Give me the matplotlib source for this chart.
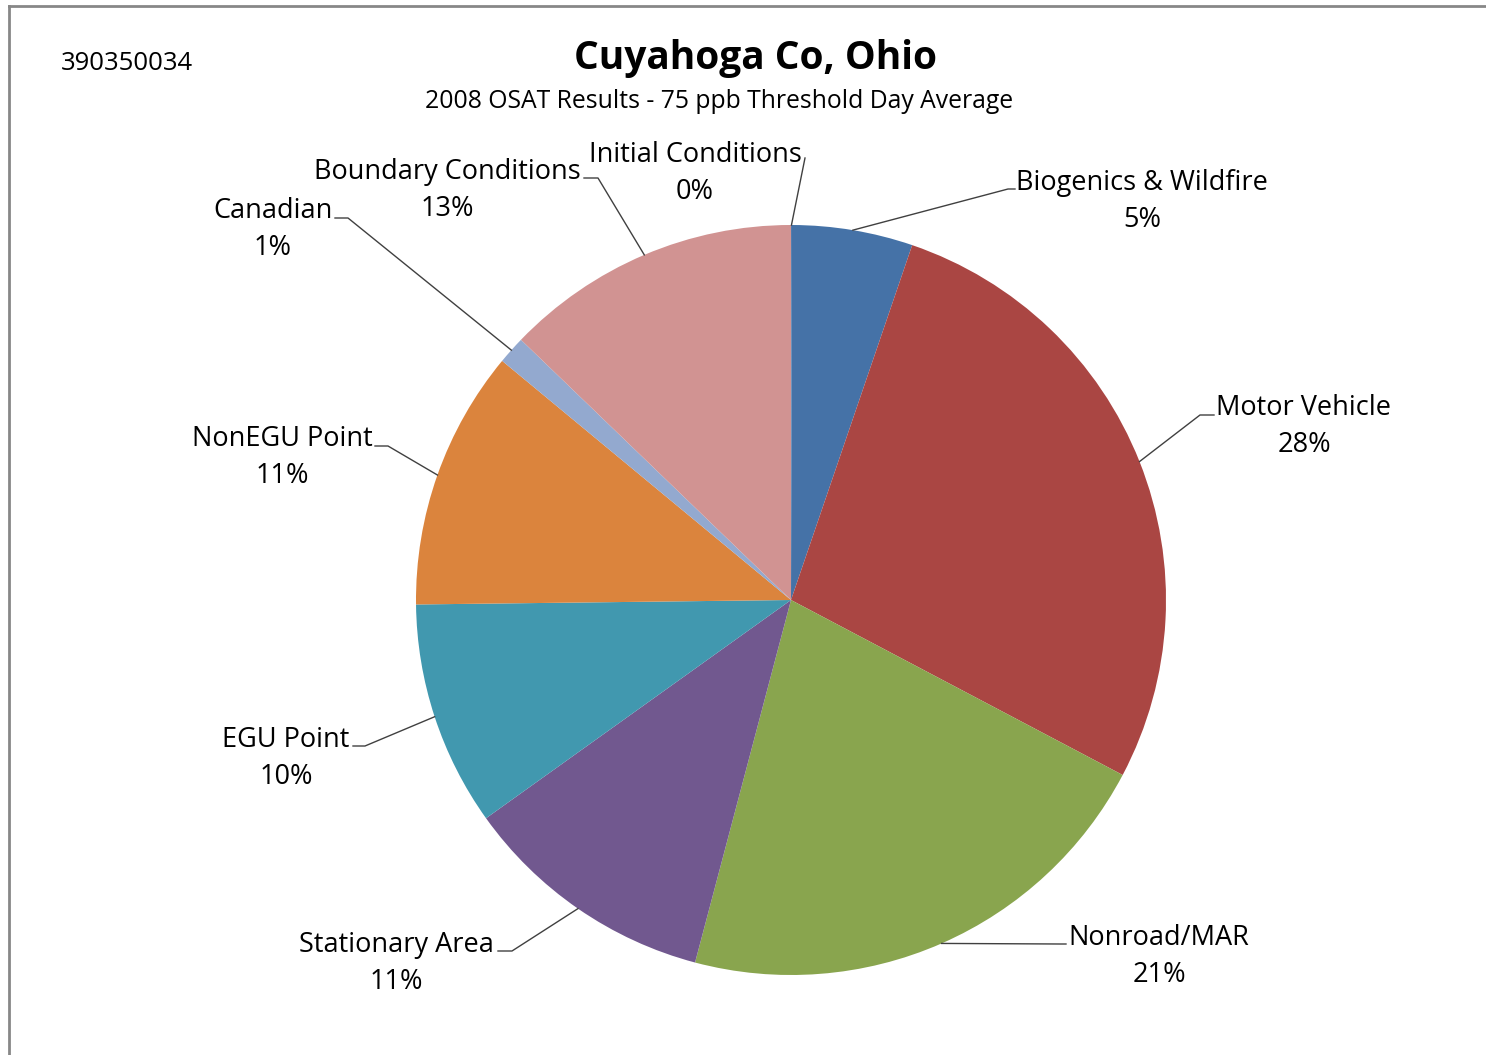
import numpy as np
import matplotlib.pyplot as plt
from matplotlib.lines import Line2D

# data, clockwise from 12 o'clock
sources = ['Initial Conditions', 'Biogenics & Wildfire', 'Motor Vehicle', 'Nonroad/MAR',
           'Stationary Area', 'EGU Point', 'NonEGU Point', 'Canadian', 'Boundary Conditions']
shares = [0.04, 5.2, 27.5, 21.4, 11.0, 9.7, 11.2, 1.2, 12.8]
pct_labels = ['0%', '5%', '28%', '21%', '11%', '10%', '11%', '1%', '13%']
colors = ['#4572A7', '#4572A7', '#AA4643', '#89A54E', '#71588F',
          '#4198AF', '#DB843D', '#93A9CF', '#D19392']

site_id = '390350034'
title = 'Cuyahoga Co, Ohio'
subtitle = '2008 OSAT Results - 75 ppb Threshold Day Average'

W, H = 1486, 1055
plt.rcParams['font.family'] = ['Open Sans', 'DejaVu Sans']

fig = plt.figure(figsize=(W / 100, H / 100), dpi=100)
ax = fig.add_axes([0, 0, 1, 1])

cx, cy, r = 791, H - 600, 375
wedges, _ = ax.pie(shares, colors=colors, startangle=90, counterclock=False,
                   center=(cx, cy), radius=r, frame=True,
                   wedgeprops=dict(linewidth=0))
ax.set_xlim(0, W)
ax.set_ylim(0, H)
ax.axis('off')

# label layout (pixel coords from top-left): text center x, first line y, elbow, end of leader
layout = {
    'Initial Conditions': ((695, 155), None, (805, 158)),
    'Biogenics & Wildfire': ((1142, 183), (1008, 189), (1015, 189)),
    'Motor Vehicle': ((1304, 408), (1200, 415), (1214, 415)),
    'Nonroad/MAR': ((1159, 938), (1060, 944), (1066, 944)),
    'Stationary Area': ((396, 945), (512, 951), (498, 951)),
    'EGU Point': ((286, 740), (365, 746), (353, 746)),
    'NonEGU Point': ((282, 439), (388, 446), (375, 446)),
    'Canadian': ((273, 211), (348, 218), (335, 218)),
    'Boundary Conditions': ((447, 172), (598, 178), (584, 178)),
}

for w, name, pct in zip(wedges, sources, pct_labels):
    mid = np.deg2rad((w.theta1 + w.theta2) / 2)
    xs = [cx + r * np.cos(mid)]
    ys = [cy + r * np.sin(mid)]
    (tx, ty), elbow, end = layout[name]
    if elbow is not None:
        xs.append(elbow[0]); ys.append(H - elbow[1])
    xs.append(end[0]); ys.append(H - end[1])
    ax.add_line(Line2D(xs, ys, color='#404040', lw=1.0))
    ax.text(tx, H - ty, name, ha='center', va='center', fontsize=19.5, color='black')
    ax.text(tx, H - ty - 37, pct, ha='center', va='center', fontsize=19.5, color='black')

ax.text(61, H - 64, site_id, ha='left', va='center', fontsize=18.5, color='black')
ax.text(756, H - 58, title, ha='center', va='center', fontsize=28, fontweight='bold', color='black')
ax.text(719, H - 101, subtitle, ha='center', va='center', fontsize=17.8, color='black')

# chart area border (top and left visible)
ax.add_line(Line2D([9, 9], [0, H - 6], color='#878787', lw=2))
ax.add_line(Line2D([9, W], [H - 6, H - 6], color='#878787', lw=2))

fig.savefig('out.png', dpi=100)
